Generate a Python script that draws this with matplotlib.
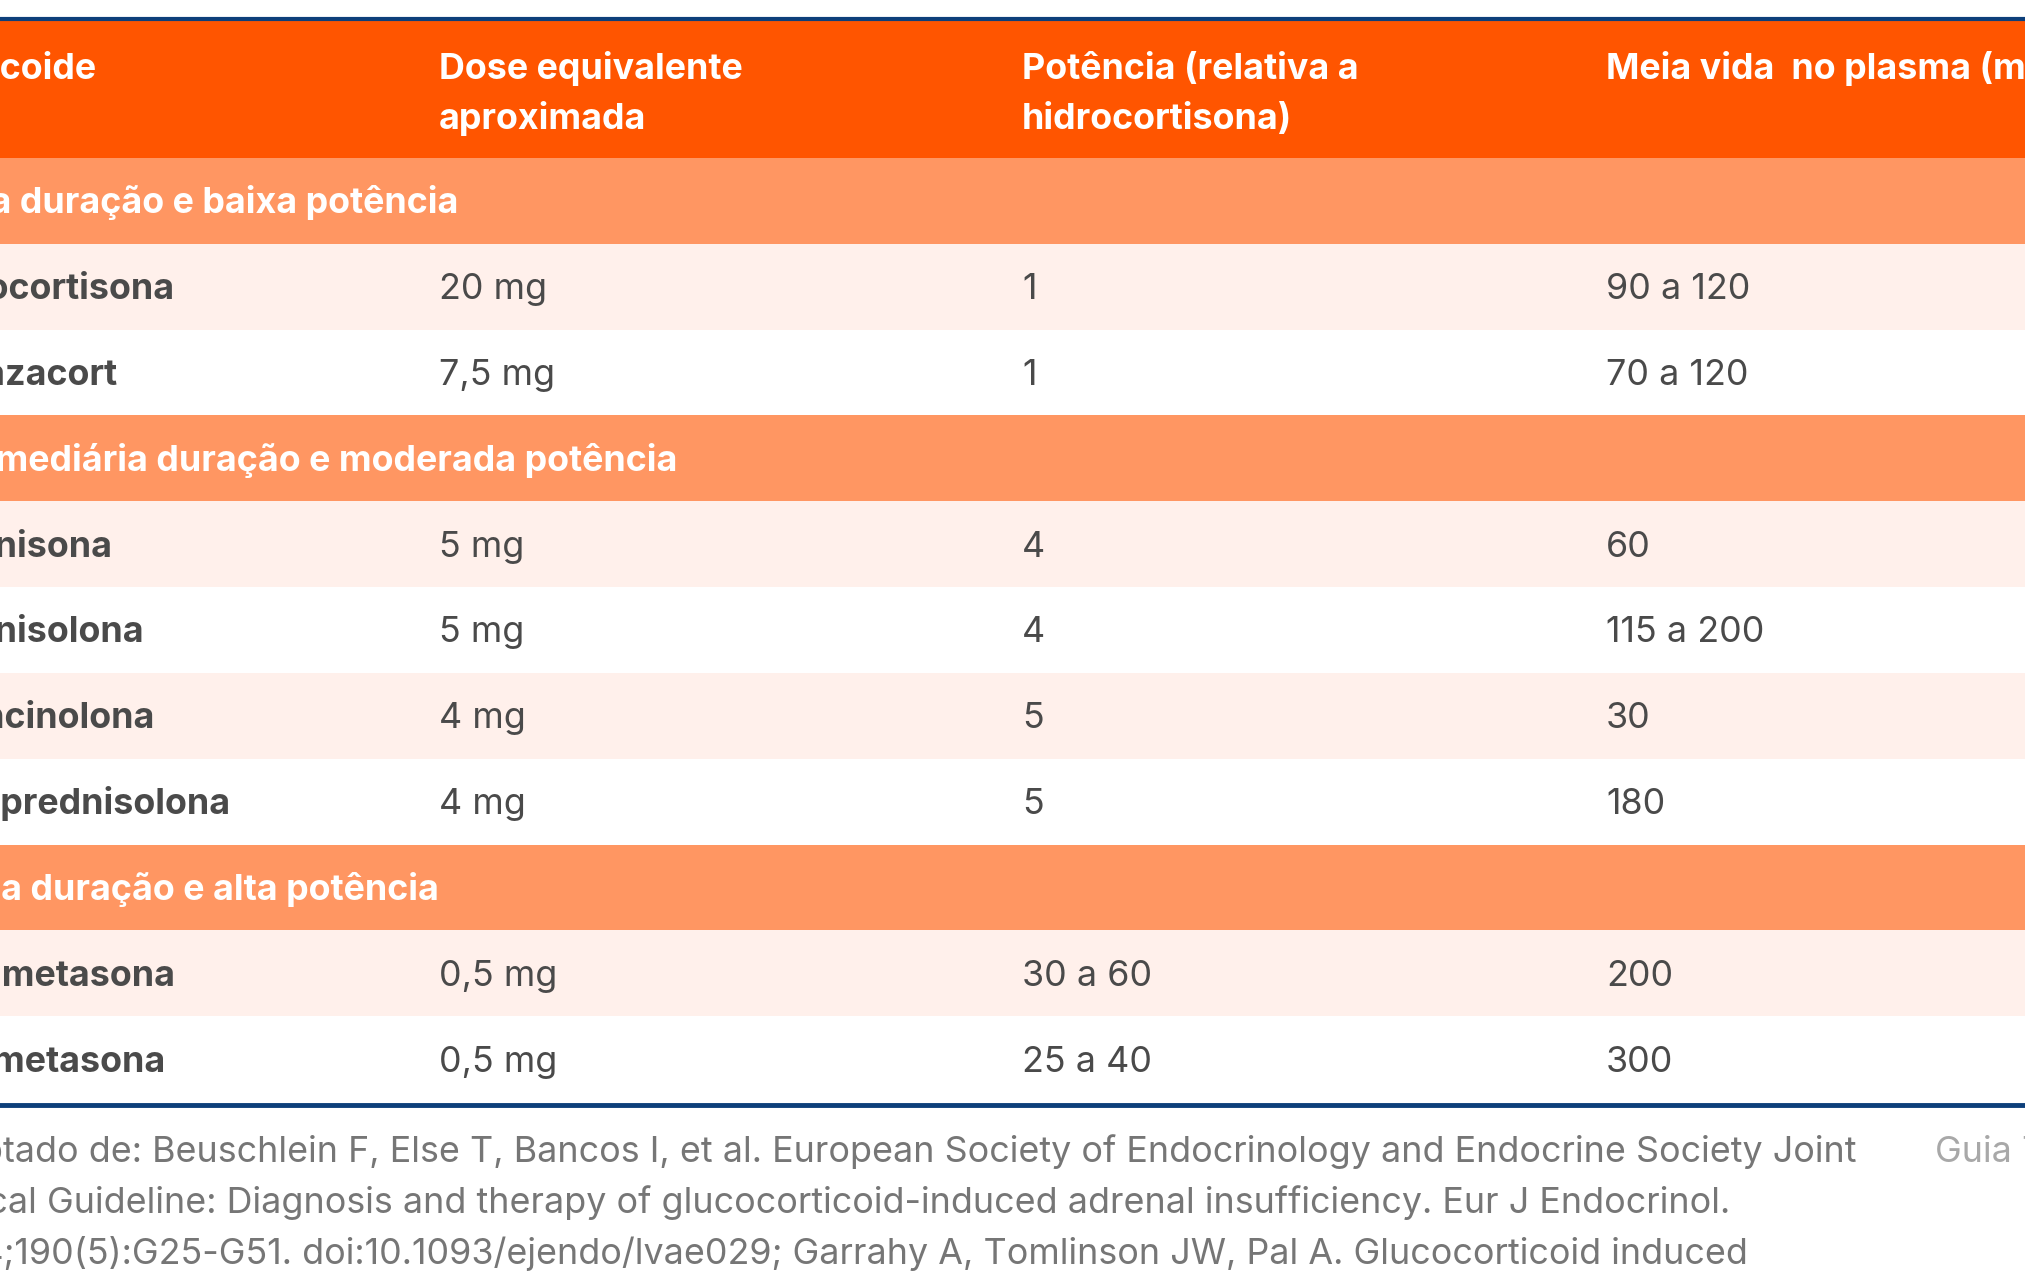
import matplotlib
matplotlib.use("Agg")
import matplotlib.pyplot as plt

plt.rcParams['font.family'] = ['Inter', 'DejaVu Sans']

# table content
headers = [["Corticoide"],
           ["Dose equivalente", "aproximada"],
           ["Potência (relativa a", "hidrocortisona)"],
           ["Meia vida  no plasma (minutos)"]]

groups = ["Curta duração e baixa potência",
          "Intermediária duração e moderada potência",
          "Longa duração e alta potência"]

drugs = [["Hidrocortisona", "Deflazacort"],
         ["Prednisona", "Prednisolona", "Triancinolona", "Metilprednisolona"],
         ["Dexametasona", "Betametasona"]]
doses = [["20 mg", "7,5 mg"],
         ["5 mg", "5 mg", "4 mg", "4 mg"],
         ["0,5 mg", "0,5 mg"]]
potency = [["1", "1"],
           ["4", "4", "5", "5"],
           ["30 a 60", "25 a 40"]]
half_life = [["90 a 120", "70 a 120"],
             ["60", "115 a 200", "30", "180"],
             ["200", "300"]]

footer = ["Adaptado de: Beuschlein F, Else T, Bancos I, et al. European Society of Endocrinology and Endocrine Society Joint",
          "Clinical Guideline: Diagnosis and therapy of glucocorticoid-induced adrenal insufficiency. Eur J Endocrinol.",
          "2024;190(5):G25-G51. doi:10.1093/ejendo/lvae029; Garrahy A, Tomlinson JW, Pal A. Glucocorticoid induced"]
side_note = "Guia T"

# colours
ORANGE = "#FF5500"
GROUP = "#FF9662"
LIGHT = "#FFF0EB"
BLUE = "#0D3F7A"
TEXT = "#4A4A4A"

W, H = 2025, 1272
fig = plt.figure(figsize=(W / 100, H / 100), dpi=100)
ax = fig.add_axes([0, 0, 1, 1])
ax.set_xlim(0, W)
ax.set_ylim(H, 0)
ax.axis("off")

col_x = [-86, 439, 1022, 1606]
fs = 25.8
header_top, header_bot = 21, 158
row_h = (1102 - header_bot) / 11
cap_half = 12.5

# header
ax.axhspan(header_top, header_bot, color=ORANGE, lw=0)
for x, lines in zip(col_x, headers):
    for k, h in enumerate(lines):
        ax.text(x, 79 + k * 50, h, color="white", fontsize=fs, fontweight="bold",
                va="baseline", ha="left")

y = header_bot
for g, names, d, p, hl in zip(groups, drugs, doses, potency, half_life):
    ax.axhspan(y, y + row_h, color=GROUP, lw=0)
    ax.text(col_x[0], y + row_h / 2 + cap_half, g, color="white", fontsize=fs,
            fontweight="bold", va="baseline")
    y += row_h
    for i, vals in enumerate(zip(names, d, p, hl)):
        if i % 2 == 0:
            ax.axhspan(y, y + row_h, color=LIGHT, lw=0)
        for j, (x, v) in enumerate(zip(col_x, vals)):
            ax.text(x, y + row_h / 2 + cap_half, v, color=TEXT, fontsize=fs,
                    fontweight="bold" if j == 0 else "normal", va="baseline")
        y += row_h

# blue rules top and bottom
ax.axhline(19, color=BLUE, lw=3)
ax.axhline(1104.5, color=BLUE, lw=3.5)

# footer
for k, line in enumerate(footer):
    ax.text(col_x[0], 1162 + k * 51, line, color="#767676", fontsize=fs, va="baseline")
ax.text(1935, 1162, side_note, color="#A8A8A8", fontsize=fs, va="baseline")

fig.savefig("out.png", dpi=100)
